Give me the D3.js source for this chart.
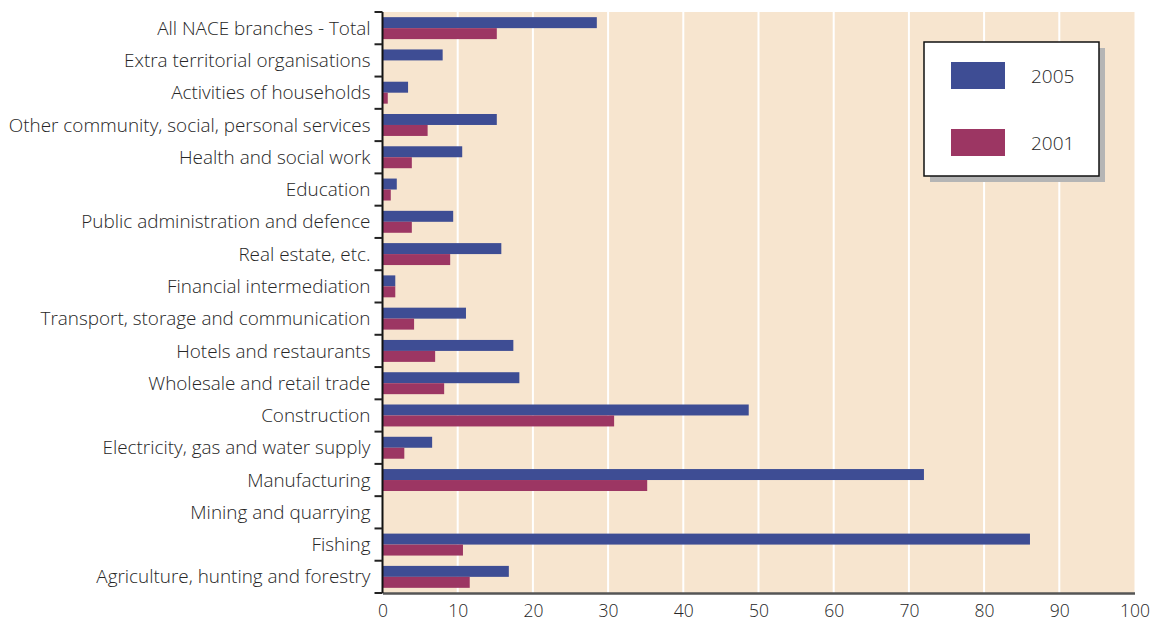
<!DOCTYPE html>
<html>
<head>
<meta charset="utf-8">
<script src="https://cdn.jsdelivr.net/npm/d3@7"></script>
<style>
  html, body { margin: 0; padding: 0; background: #ffffff; }
  svg { display: block; }
  text { font-family: "Open Sans", "Noto Sans", sans-serif; fill: #262626; }
</style>
</head>
<body>
<svg id="chart" width="1157" height="623"></svg>
<script>
// Branches, listed top to bottom
const categories = [
  "All NACE branches - Total",
  "Extra territorial organisations",
  "Activities of households",
  "Other community, social, personal services",
  "Health and social work",
  "Education",
  "Public administration and defence",
  "Real estate, etc.",
  "Financial intermediation",
  "Transport, storage and communication",
  "Hotels and restaurants",
  "Wholesale and retail trade",
  "Construction",
  "Electricity, gas and water supply",
  "Manufacturing",
  "Mining and quarrying",
  "Fishing",
  "Agriculture, hunting and forestry"
];

const values2005 = [28.5, 8.0, 3.4, 15.2, 10.6, 1.9, 9.4, 15.8, 1.7, 11.1, 17.4, 18.2, 48.7, 6.6, 72.0, null, 86.1, 16.8];
const values2001 = [15.2, null, 0.7, 6.0, 3.9, 1.1, 3.9, 9.0, 1.7, 4.2, 7.0, 8.2, 30.8, 2.9, 35.2, null, 10.7, 11.6];

const seriesNames = ["2005", "2001"];
const seriesColors = ["#3e4d94", "#9c3663"];
const xTicks = [0, 10, 20, 30, 40, 50, 60, 70, 80, 90, 100];

const svg = d3.select("#chart");
const margin = { left: 382.5, right: 22.5, top: 12, bottom: 30 };
const W = 1157, H = 623;
const plotW = W - margin.left - margin.right;
const plotH = H - margin.top - margin.bottom;

const x = d3.scaleLinear().domain([0, 100]).range([0, plotW]);
const y = d3.scaleBand().domain(categories).range([0, plotH]).paddingInner(0.32).paddingOuter(0.16);
const ySub = d3.scaleBand().domain(seriesNames).range([0, y.bandwidth()]);

const g = svg.append("g").attr("transform", `translate(${margin.left},${margin.top})`);

// plot background
g.append("rect").attr("x", 0).attr("y", 0).attr("width", plotW).attr("height", plotH).attr("fill", "#f7e5cf");

// vertical gridlines
g.selectAll("line.grid").data(xTicks.slice(1, -1)).join("line")
  .attr("class", "grid")
  .attr("x1", d => x(d)).attr("x2", d => x(d))
  .attr("y1", 0).attr("y2", plotH)
  .attr("stroke", "#ffffff").attr("stroke-width", 2);

// bars
const series = [values2005, values2001];
series.forEach((vals, si) => {
  g.selectAll(`rect.s${si}`).data(categories.map((c, i) => ({ c, v: vals[i] })).filter(d => d.v != null))
    .join("rect")
    .attr("class", `s${si}`)
    .attr("x", 0)
    .attr("y", d => y(d.c) + ySub(seriesNames[si]))
    .attr("width", d => x(d.v))
    .attr("height", ySub.bandwidth())
    .attr("fill", seriesColors[si]);
});

// bottom axis
const xAxis = g.append("g").attr("transform", `translate(0,${plotH})`)
  .call(d3.axisBottom(x).tickValues(xTicks).tickSize(0).tickPadding(12));
xAxis.select(".domain").attr("stroke", "#555555").attr("stroke-width", 2.5);
xAxis.selectAll("text").attr("font-size", 17.5).attr("fill", "#2e2e2e").attr("font-weight", 300)
  .attr("font-family", "'Open Sans', sans-serif");

// left axis: ticks between categories
const step = y.step();
const boundaries = d3.range(categories.length + 1).map(i => i === 0 ? 0 : (i === categories.length ? plotH : y(categories[i]) - y.paddingInner() * step / 2));
const yAxisG = g.append("g");
yAxisG.append("line").attr("x1", 0).attr("x2", 0).attr("y1", 0).attr("y2", plotH)
  .attr("stroke", "#111111").attr("stroke-width", 2);
yAxisG.selectAll("line.tk").data(boundaries).join("line")
  .attr("class", "tk")
  .attr("x1", -8).attr("x2", 0)
  .attr("y1", d => d).attr("y2", d => d)
  .attr("stroke", "#222222").attr("stroke-width", 2);
yAxisG.selectAll("text").data(categories).join("text")
  .attr("x", -12)
  .attr("y", d => y(d) + y.bandwidth() / 2)
  .attr("dy", "0.35em")
  .attr("text-anchor", "end")
  .attr("font-size", 18.9)
  .attr("font-weight", 300)
  .text(d => d);

// legend
const lg = svg.append("g").attr("transform", "translate(924,42)");
lg.append("rect").attr("x", 6).attr("y", 6).attr("width", 175).attr("height", 134).attr("fill", "#b5b5b5");
lg.append("rect").attr("x", 0).attr("y", 0).attr("width", 175).attr("height", 134)
  .attr("fill", "#ffffff").attr("stroke", "#111111").attr("stroke-width", 1.5);
seriesNames.forEach((name, i) => {
  lg.append("rect").attr("x", 27).attr("y", 20 + i * 67).attr("width", 54).attr("height", 27).attr("fill", seriesColors[i]);
  lg.append("text").attr("x", 107).attr("y", 34 + i * 67).attr("dy", "0.35em")
    .attr("font-size", 19).attr("font-weight", 300).text(name);
});
</script>
</body>
</html>
